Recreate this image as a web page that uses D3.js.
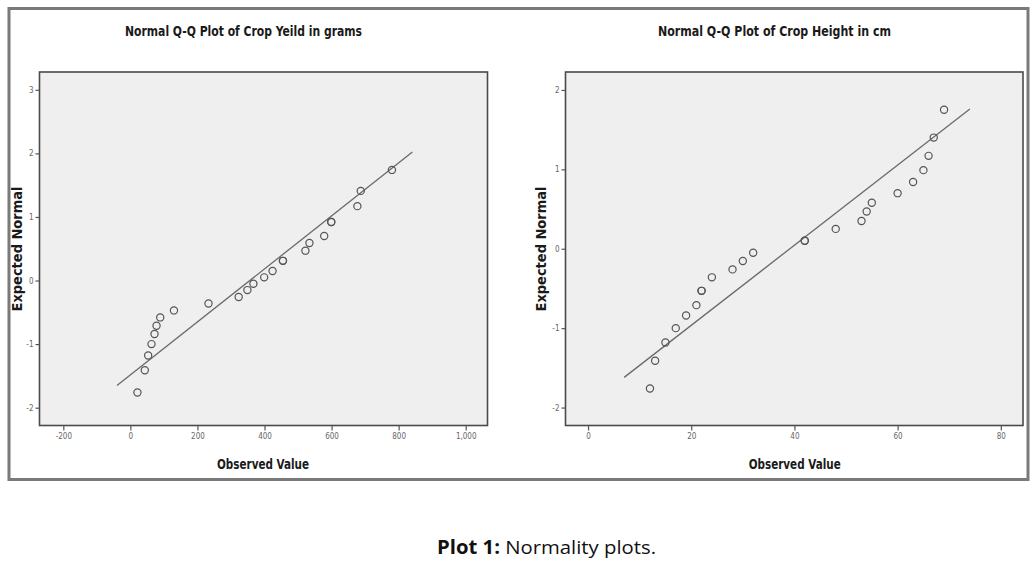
<!DOCTYPE html>
<html>
<head>
<meta charset="utf-8">
<script src="https://cdn.jsdelivr.net/npm/d3@7/dist/d3.min.js"></script>
<style>
  html, body { margin: 0; padding: 0; background: #fff; }
  svg { display: block; }
</style>
</head>
<body>
<svg id="chart" width="1036" height="570"></svg>
<script>
// ---------- DATA ----------
const yieldTitle = "Normal Q-Q Plot of Crop Yeild in grams";
const yieldObserved = [21, 43, 53, 63, 72, 78, 89, 130, 233, 323, 349, 367, 399, 424, 455, 455, 522, 534, 578, 599, 599, 677, 687, 780];
const yieldExpected = [-1.76, -1.41, -1.18, -1.00, -0.84, -0.71, -0.58, -0.47, -0.36, -0.26, -0.15, -0.05, 0.05, 0.15, 0.31, 0.31, 0.47, 0.59, 0.70, 0.92, 0.92, 1.17, 1.41, 1.74];
const yieldLineX = [-40, 841];
const yieldLineY = [-1.65, 2.02];
const yieldXTicks = [-200, 0, 200, 400, 600, 800, 1000];
const yieldYTicks = [-2, -1, 0, 1, 2, 3];

const heightTitle = "Normal Q-Q Plot of Crop Height in cm";
const heightObserved = [12, 13, 15, 17, 19, 21, 22, 22, 24, 28, 30, 32, 42, 42, 48, 53, 54, 55, 60, 63, 65, 66, 67, 69];
const heightExpected = [-1.76, -1.41, -1.18, -1.00, -0.84, -0.71, -0.53, -0.53, -0.36, -0.26, -0.155, -0.05, 0.10, 0.10, 0.25, 0.35, 0.47, 0.58, 0.70, 0.84, 0.99, 1.17, 1.40, 1.75];
const heightLineX = [7, 74];
const heightLineY = [-1.62, 1.76];
const heightXTicks = [0, 20, 40, 60, 80];
const heightYTicks = [-2, -1, 0, 1, 2];

const xAxisLabel = "Observed Value";
const yAxisLabel = "Expected Normal";
const captionBold = "Plot 1:";
const captionText = " Normality plots.";

// ---------- DRAW ----------
const svg = d3.select("#chart");
const condensed = "'Liberation Sans Narrow', 'Arial Narrow', 'DejaVu Sans Condensed', sans-serif";
const fmtX = d => d3.format(",")(d).replace("\u2212", "-");
const fmtY = d => d3.format("d")(d).replace("\u2212", "-");

// outer frame
svg.append("rect")
  .attr("x", 9).attr("y", 8.5).attr("width", 1019).attr("height", 471)
  .attr("fill", "#fff").attr("stroke", "#7a7a7a").attr("stroke-width", 3);

function panel(cfg) {
  const g = svg.append("g");
  const x = d3.scaleLinear().domain(cfg.xDomain).range([cfg.left, cfg.right]);
  const y = d3.scaleLinear().domain(cfg.yDomain).range([cfg.bottom, cfg.top]);

  // plot background
  g.append("rect")
    .attr("x", cfg.left).attr("y", cfg.top)
    .attr("width", cfg.right - cfg.left).attr("height", cfg.bottom - cfg.top)
    .attr("fill", "#efefef").attr("stroke", "#4a4a4a").attr("stroke-width", 1.6);

  // x axis
  const xa = g.append("g").attr("transform", `translate(0,${cfg.bottom})`)
    .call(d3.axisBottom(x).tickValues(cfg.xTicks).tickSize(5).tickPadding(3)
      .tickFormat(fmtX));
  xa.select(".domain").remove();
  xa.selectAll(".tick line").attr("stroke", "#555").attr("stroke-width", 1.2);
  xa.selectAll(".tick text").attr("fill", "#666").attr("font-size", 8)
    .attr("font-family", condensed);

  // y axis
  const ya = g.append("g").attr("transform", `translate(${cfg.left},0)`)
    .call(d3.axisLeft(y).tickValues(cfg.yTicks).tickSize(4).tickPadding(2)
      .tickFormat(fmtY));
  ya.select(".domain").remove();
  ya.selectAll(".tick line").attr("stroke", "#555").attr("stroke-width", 1.2);
  ya.selectAll(".tick text").attr("fill", "#666").attr("font-size", 8)
    .attr("font-family", condensed);

  // reference line
  g.append("line")
    .attr("x1", x(cfg.lineX[0])).attr("y1", y(cfg.lineY[0]))
    .attr("x2", x(cfg.lineX[1])).attr("y2", y(cfg.lineY[1]))
    .attr("stroke", "#6a6a6a").attr("stroke-width", 1.3);

  // points
  g.selectAll("circle.pt").data(cfg.obs.map((v, i) => [v, cfg.exp[i]]))
    .join("circle").attr("class", "pt")
    .attr("cx", d => x(d[0])).attr("cy", d => y(d[1])).attr("r", 3.6)
    .attr("fill", "none").attr("stroke", "#555").attr("stroke-width", 1.2);

  // title
  g.append("text")
    .attr("x", cfg.titleX).attr("y", 36)
    .attr("text-anchor", "middle")
    .attr("font-family", condensed).attr("font-weight", "bold")
    .attr("font-size", 13.5).attr("fill", "#1a1a1a")
    .attr("textLength", cfg.titleLen).attr("lengthAdjust", "spacingAndGlyphs")
    .text(cfg.title);

  // x label
  g.append("text")
    .attr("x", cfg.xLabelX).attr("y", 469)
    .attr("text-anchor", "middle")
    .attr("font-family", condensed).attr("font-weight", "bold")
    .attr("font-size", 13.5).attr("fill", "#1a1a1a")
    .attr("textLength", 92).attr("lengthAdjust", "spacingAndGlyphs")
    .text(xAxisLabel);

  // y label
  g.append("text")
    .attr("transform", `translate(${cfg.yLabelX},249) rotate(-90)`)
    .attr("text-anchor", "middle")
    .attr("font-family", condensed).attr("font-weight", "bold")
    .attr("font-size", 13.5).attr("fill", "#1a1a1a")
    .attr("textLength", 125).attr("lengthAdjust", "spacingAndGlyphs")
    .text(yAxisLabel);
}

panel({
  left: 39.5, right: 487.5, top: 72, bottom: 425.5,
  xDomain: [-271, 1065], yDomain: [-2.28, 3.28],
  xTicks: yieldXTicks, yTicks: yieldYTicks,
  obs: yieldObserved, exp: yieldExpected,
  lineX: yieldLineX, lineY: yieldLineY,
  title: yieldTitle, titleX: 243.5, titleLen: 237,
  xLabelX: 263, yLabelX: 21.5
});

panel({
  left: 565.5, right: 1023, top: 72, bottom: 425.5,
  xDomain: [-4.37, 84.3], yDomain: [-2.226, 2.226],
  xTicks: heightXTicks, yTicks: heightYTicks,
  obs: heightObserved, exp: heightExpected,
  lineX: heightLineX, lineY: heightLineY,
  title: heightTitle, titleX: 774.5, titleLen: 233,
  xLabelX: 794.7, yLabelX: 545.5
});

// caption
const cap = svg.append("text")
  .attr("x", 546.5).attr("y", 554)
  .attr("text-anchor", "middle")
  .attr("font-family", "'Open Sans', 'Liberation Sans', Arial, sans-serif")
  .attr("font-size", 19).attr("fill", "#111")
  .attr("textLength", 219).attr("lengthAdjust", "spacingAndGlyphs");
cap.append("tspan").attr("font-weight", "bold").text(captionBold);
cap.append("tspan").text(captionText);
</script>
</body>
</html>
